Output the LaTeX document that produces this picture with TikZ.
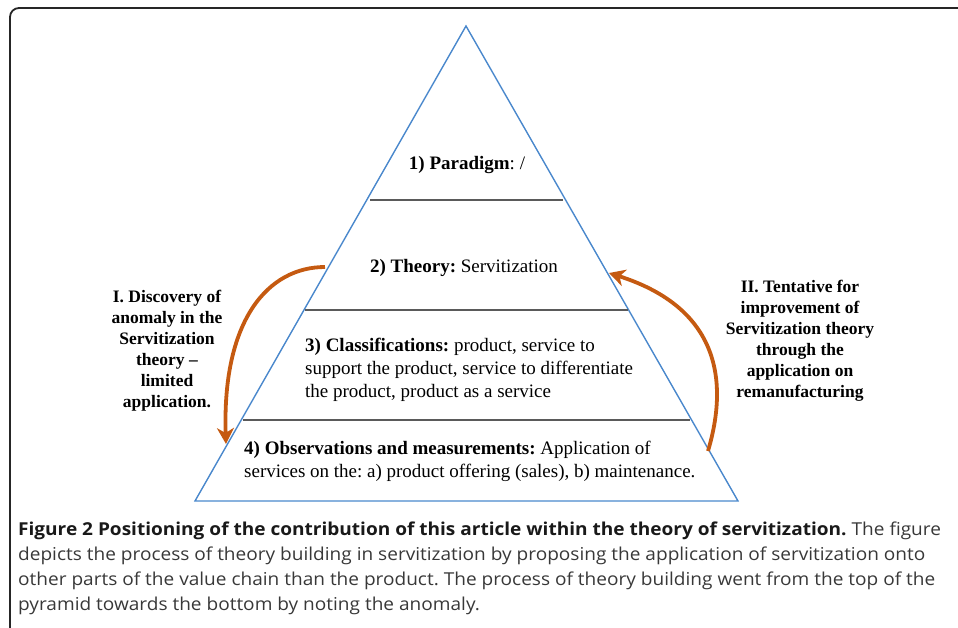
\documentclass[tikz,border=0pt]{standalone}
\usepackage{fontspec}
\setmainfont{Liberation Serif}
\newfontfamily\capfont[FakeStretch=1.07]{Open Sans}
\usetikzlibrary{arrows.meta}
\frenchspacing
\definecolor{pyrblue}{HTML}{4A88CC}
\definecolor{rowgray}{HTML}{5A5A5A}
\definecolor{arrorange}{HTML}{C55A11}
\definecolor{captxt}{HTML}{383838}
\tikzset{
  pyr/.style={draw=pyrblue, line width=1.4pt, line join=miter},
  rowline/.style={draw=rowgray, line width=1.3pt},
  flow/.style={draw=arrorange, line width=3.8pt, -{Stealth[length=16pt,width=17pt,inset=5pt]}},
  rowtxt/.style={inner sep=0pt, font=\fontsize{19}{23}\selectfont\frenchspacing},
  sidetxt/.style={inner sep=0pt, align=center, font=\fontsize{17.5}{21}\selectfont\bfseries},
  captxtstyle/.style={inner sep=0pt, align=left, text=captxt, font=\capfont\fontsize{17.8}{25}\selectfont\frenchspacing},
  frame/.style={draw=black!85, line width=1.8pt}
}
\begin{document}
\begin{tikzpicture}[x=1pt,y=-1pt]
\useasboundingbox (0,0) rectangle (958,627);
% frame
\draw[frame, rounded corners=9pt] (10,640) -- (10,8) -- (970,8);
% pyramid
\coordinate (apex) at (466,26);
\coordinate (bl) at (195,501);
\coordinate (br) at (738,501);
\draw[pyr] (apex) -- (bl) -- (br) -- cycle;
\coordinate (l1) at (370,200); \coordinate (r1) at (563,200);
\coordinate (l2) at (305,310); \coordinate (r2) at (628,310);
\coordinate (l3) at (243,420); \coordinate (r3) at (690,420);
\draw[rowline] (l1) -- (r1);
\draw[rowline] (l2) -- (r2);
\draw[rowline] (l3) -- (r3);
% row texts
\node[rowtxt] (t1) at (467,165) {\textbf{1) Paradigm}: /};
\node[rowtxt] (t2) at (464,268) {\textbf{2) Theory:} Servitization};
\node[rowtxt, align=left, anchor=west] (t3) at (305,370) {\textbf{3) Classifications:} product, service to\\support the product, service to differentiate\\the product, product as a service};
\node[rowtxt, align=left, anchor=west] (t4) at (244,461.5) {\textbf{4) Observations and measurements:} Application of\\services on the: a) product offering (sales), b) maintenance.};
% side labels
\node[sidetxt] (lab1) at (167,351) {I. Discovery of\\anomaly in the\\Servitization\\theory --\\limited\\application.};
\node[sidetxt] (lab2) at (800,340.5) {II. Tentative for\\improvement of\\Servitization theory\\through the\\application on\\remanufacturing};
% arrows
\coordinate (a1s) at (325,267);
\coordinate (a1e) at (226,444);
\coordinate (a2s) at (708,451);
\coordinate (a2e) at (609,273);
\draw[flow] (a1s) .. controls (268,267) and (222,320) .. (a1e);
\draw[flow] (a2s) .. controls (732,370) and (710,305) .. (a2e);
% caption
\node[captxtstyle, anchor=west] (cap) at (18,568.5) {{\bfseries\color{black!90}Figure 2 Positioning of the contribution of this article within the theory of servitization.} The figure\\depicts the process of theory building in servitization by proposing the application of servitization onto\\other parts of the value chain than the product. The process of theory building went from the top of the\\pyramid towards the bottom by noting the anomaly.};
\end{tikzpicture}
\end{document}
